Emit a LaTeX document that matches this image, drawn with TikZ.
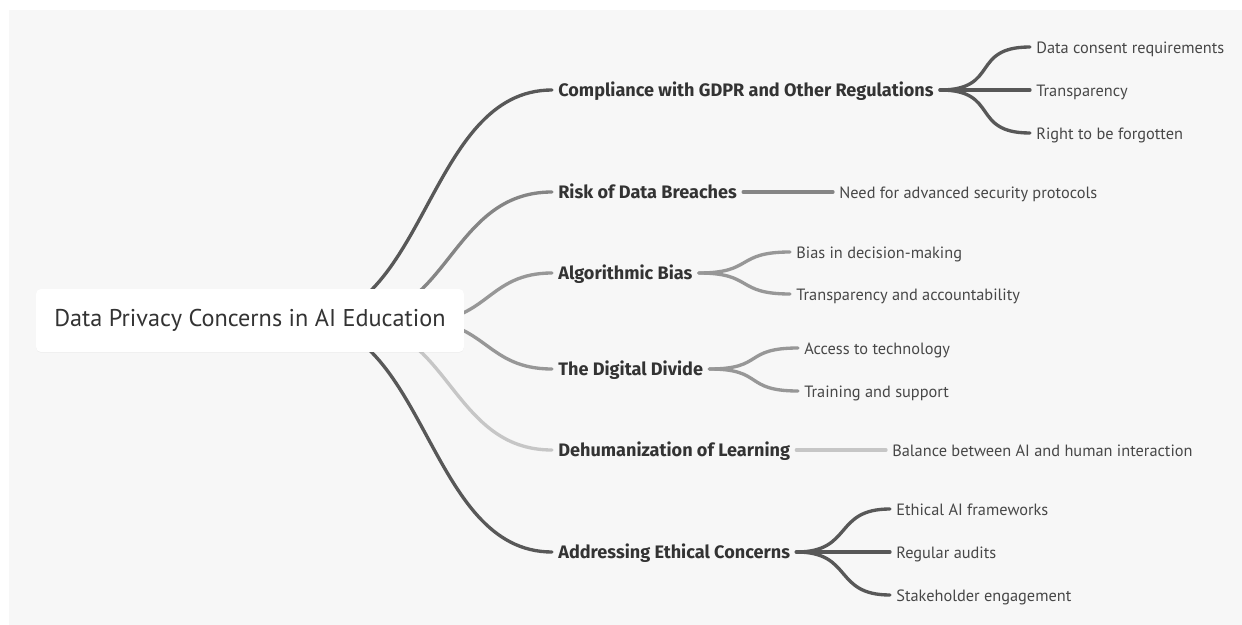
\documentclass[tikz,border=0pt]{standalone}
\usepackage{fontspec}
\setmainfont{PT Sans}
\newfontfamily\headfont{Fira Sans}
\usetikzlibrary{shadows}
\pgfdeclarelayer{paper}
\pgfdeclarelayer{background}
\pgfsetlayers{paper,background,main}

\definecolor{paper}{HTML}{F7F7F7}
\definecolor{ink}{HTML}{333333}
\definecolor{dark}{HTML}{585858}
\definecolor{mid}{HTML}{858585}
\definecolor{soft}{HTML}{979797}
\definecolor{pale}{HTML}{C6C6C6}

\tikzset{
  topic/.style={fill=white, rounded corners=0.1cm, minimum width=8.56cm, minimum height=1.26cm,
    drop shadow={shadow xshift=0pt, shadow yshift=-0.5pt, opacity=0.06},
    text height=1.4ex, text depth=0pt,
    font=\fontsize{13.8}{16}\selectfont, text=ink},
  branch/.style={anchor=west, inner xsep=3.4pt, inner ysep=0pt, text height=1.45ex, text depth=0pt,
    font=\headfont\fontsize{10.3}{12}\selectfont\bfseries, text=ink},
  leaf/.style={anchor=west, inner xsep=3.4pt, inner ysep=0pt, text height=1.4ex, text depth=0pt,
    font=\fontsize{9.3}{10}\selectfont, text=ink!90},
  link/.style={line width=1.9pt, line cap=round},
}

\begin{document}
\begin{tikzpicture}[x=0.02cm, y=-0.02cm]
	\useasboundingbox (0,0) rectangle (1242,625);
	\begin{pgfonlayer}{paper}
		\fill[paper] (9,10) rectangle (1242,625);
	\end{pgfonlayer}

	% root and main topics
	\node (root)[topic] at (250,320.5) {Data Privacy Concerns in AI Education};
	\node (gdpr)[branch] at (552,90) {Compliance with GDPR and Other Regulations};
	\node (breach)[branch] at (552,192) {Risk of Data Breaches};
	\node (bias)[branch] at (552,273) {Algorithmic Bias};
	\node (divide)[branch] at (552,369) {The Digital Divide};
	\node (human)[branch] at (552,450) {Dehumanization of Learning};
	\node (ethics)[branch] at (552,552) {Addressing Ethical Concerns};

	% leaves
	\node (consent)[leaf] at (1030,47) {Data consent requirements};
	\node (transp)[leaf] at (1030,90) {Transparency};
	\node (forget)[leaf] at (1030,133) {Right to be forgotten};
	\node (secure)[leaf] at (833,192) {Need for advanced security protocols};
	\node (decide)[leaf] at (790,252) {Bias in decision-making};
	\node (account)[leaf] at (790,294) {Transparency and accountability};
	\node (access)[leaf] at (798,348) {Access to technology};
	\node (train)[leaf] at (798,391) {Training and support};
	\node (balance)[leaf] at (886,450) {Balance between AI and human interaction};
	\node (frame)[leaf] at (890,509) {Ethical AI frameworks};
	\node (audit)[leaf] at (890,552) {Regular audits};
	\node (stake)[leaf] at (890,595) {Stakeholder engagement};

	\begin{pgfonlayer}{background}
		\coordinate (s1) at (302,321);
		\coordinate (s2) at (348,321);
		\coordinate (s3) at (424,321);
		\coordinate (s4) at (420,321);
		\coordinate (s5) at (348,321);
		\coordinate (s6) at (302,321);
		\draw[link, dark] (s1) .. controls +(125,0) and +(-125,0) .. (gdpr.west);
		\draw[link, mid] (s2) .. controls +(102,0) and +(-102,0) .. (breach.west);
		\draw[link, soft] (s3) .. controls +(64,0) and +(-64,0) .. (bias.west);
		\draw[link, soft] (s4) .. controls +(66,0) and +(-66,0) .. (divide.west);
		\draw[link, pale] (s5) .. controls +(102,0) and +(-102,0) .. (human.west);
		\draw[link, dark] (s6) .. controls +(125,0) and +(-125,0) .. (ethics.west);
	\end{pgfonlayer}

	% forks to the leaves
	\draw[link, dark] (gdpr.east) .. controls +(60,0) and +(-60,0) .. (consent.west);
	\draw[link, dark] (gdpr.east) -- (transp.west);
	\draw[link, dark] (gdpr.east) .. controls +(60,0) and +(-60,0) .. (forget.west);
	\draw[link, mid] (breach.east) -- (secure.west);
	\draw[link, soft] (bias.east) .. controls +(55,0) and +(-55,0) .. (decide.west);
	\draw[link, soft] (bias.east) .. controls +(55,0) and +(-55,0) .. (account.west);
	\draw[link, soft] (divide.east) .. controls +(55,0) and +(-55,0) .. (access.west);
	\draw[link, soft] (divide.east) .. controls +(55,0) and +(-55,0) .. (train.west);
	\draw[link, pale] (human.east) -- (balance.west);
	\draw[link, dark] (ethics.east) .. controls +(57,0) and +(-57,0) .. (frame.west);
	\draw[link, dark] (ethics.east) -- (audit.west);
	\draw[link, dark] (ethics.east) .. controls +(57,0) and +(-57,0) .. (stake.west);
\end{tikzpicture}
\end{document}
